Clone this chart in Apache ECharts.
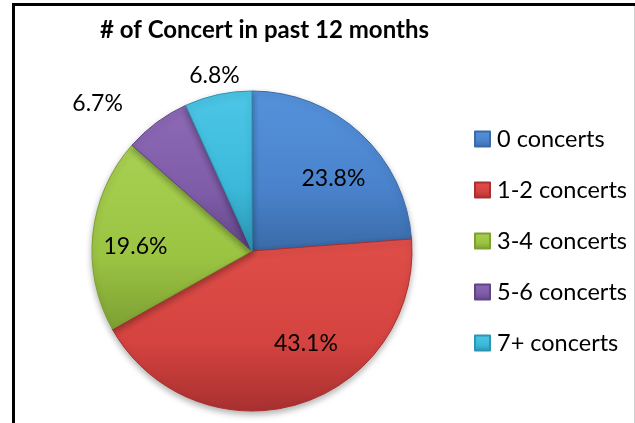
<!DOCTYPE html>
<html>
<head>
<meta charset="utf-8">
<script src="https://cdn.jsdelivr.net/npm/echarts@6/dist/echarts.min.js"></script>
<style>
html,body{margin:0;padding:0;background:#fff;}
#c{width:635px;height:423px;}
</style>
</head>
<body>
<div id="c"></div>
<script>
const titleText = '# of Concert in past 12 months';
const categories = ['0 concerts', '1-2 concerts', '3-4 concerts', '5-6 concerts', '7+ concerts'];
const values = [23.8, 43.1, 19.6, 6.7, 6.8];
const baseColors = ['#4a83cc', '#d4433f', '#9bc443', '#7f5ca8', '#3cb9da'];
const lightColors = ['#5592dc', '#e04e49', '#a8d052', '#8d69b6', '#4cc6e6'];
const darkColors = ['#3a6aa8', '#a83030', '#7ea033', '#614587', '#2b95b2'];
const labelOffsets = [[25, -12], [30, 13], [-34, 4], [-105, -81], [-20, -94]];

const chart = echarts.init(document.getElementById('c'), null, {renderer: 'canvas'});
const FONT = 'Lato';

const data = categories.map((name, i) => ({
  name: name,
  value: values[i],
  itemStyle: {
    color: {
      type: 'linear', x: 0, y: 0, x2: 0, y2: 1,
      colorStops: [
        {offset: 0, color: lightColors[i]},
        {offset: 0.6, color: baseColors[i]},
        {offset: 1, color: darkColors[i]}
      ]
    },
    borderColor: darkColors[i],
    borderWidth: 1
  }
}));

chart.setOption({
  animation: false,
  backgroundColor: '#ffffff',
  title: {
    text: titleText,
    left: 100,
    top: 18,
    padding: 0,
    textStyle: {fontFamily: FONT, fontWeight: 'bold', fontSize: 24, color: '#000'}
  },
  legend: {
    orient: 'vertical',
    left: 474,
    top: 127,
    padding: 0,
    itemWidth: 15,
    itemHeight: 15,
    itemGap: 27,
    icon: 'rect',
    textStyle: {fontFamily: FONT, fontSize: 23.5, color: '#000', padding: [0, 0, 0, 2]},
    data: categories
  },
  graphic: [
    {type: 'line', shape: {x1: 13.5, y1: 3, x2: 13.5, y2: 423}, style: {stroke: '#000', lineWidth: 3}},
    {type: 'line', shape: {x1: 12, y1: 4.5, x2: 635, y2: 4.5}, style: {stroke: '#000', lineWidth: 3}},
    {type: 'line', shape: {x1: 634.5, y1: 6, x2: 634.5, y2: 423}, style: {stroke: '#d0d0d0', lineWidth: 1}}
  ],
  series: [{
    type: 'pie',
    center: [252, 251],
    radius: 160,
    startAngle: 90,
    clockwise: true,
    avoidLabelOverlap: false,
    data: data,
    itemStyle: {
      shadowBlur: 6,
      shadowColor: 'rgba(0,0,0,0.3)',
      shadowOffsetY: 3
    },
    label: {
      show: true,
      position: 'inside',
      formatter: '{d}%',
      fontFamily: FONT,
      fontSize: 23,
      color: '#000'
    },
    labelLine: {show: false},
    labelLayout: function (p) {
      const o = labelOffsets[p.dataIndex];
      return {dx: o[0], dy: o[1]};
    },
    emphasis: {disabled: true}
  }]
});
</script>
</body>
</html>
